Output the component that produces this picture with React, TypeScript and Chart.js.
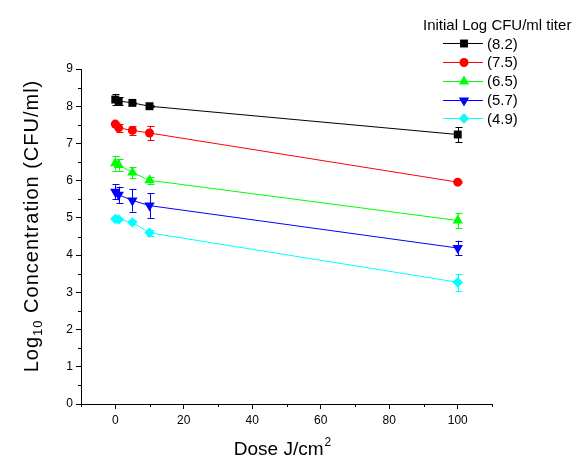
import React, { useEffect, useRef } from 'react';
import { Chart, registerables } from 'chart.js';
import { drawPoint } from 'chart.js/helpers';

Chart.register(...registerables);

const doses = [0, 1, 5, 10, 100];
const seriesLabels = ['(8.2)', '(7.5)', '(6.5)', '(5.7)', '(4.9)'];
const s82 = [8.18, 8.14, 8.09, 8.0, 7.24];
const s75 = [7.52, 7.42, 7.35, 7.28, 5.96];
const s65 = [6.47, 6.42, 6.22, 6.01, 4.93];
const s57 = [5.7, 5.62, 5.47, 5.33, 4.19];
const s49 = [4.97, 4.96, 4.88, 4.6, 3.27];
const e82 = [0.15, 0.1, 0.03, 0.03, 0.2];
const e75 = [0.05, 0.1, 0.12, 0.19, 0.03];
const e65 = [0.2, 0.15, 0.15, 0.1, 0.2];
const e57 = [0.2, 0.22, 0.3, 0.33, 0.2];
const e49 = [0.03, 0.03, 0.05, 0.08, 0.23];
const xTickValues = [0, 20, 40, 60, 80, 100];
const yTickValues = [0, 1, 2, 3, 4, 5, 6, 7, 8, 9];
const xMinorValues = [-10, 10, 30, 50, 70, 90, 110];
const yMinorValues = [0.5, 1.5, 2.5, 3.5, 4.5, 5.5, 6.5, 7.5, 8.5];
const legendTitle = 'Initial Log CFU/ml titer';

const FONT = '"Liberation Sans", Arial, sans-serif';

const seriesValues = [s82, s75, s65, s57, s49];
const seriesErrors = [e82, e75, e65, e57, e49];
const colors = ['#000000', '#ff0000', '#00ff00', '#0000ff', '#00ffff'];
const styles = ['rect', 'circle', 'triangle', 'triangle', 'rectRot'];
const rotations = [0, 0, 0, 180, 0];
const radii = [5.6, 4.5, 6, 6, 5.2];

const errBarPlugin = {
  id: 'errBars',
  beforeDatasetsDraw(chart: any) {
    const ctx = chart.ctx;
    const ys = chart.scales.y;
    chart.data.datasets.forEach((ds: any, i: number) => {
      const meta = chart.getDatasetMeta(i);
      const errs = seriesErrors[i];
      ctx.save();
      ctx.strokeStyle = ds.borderColor;
      ctx.lineWidth = 1;
      meta.data.forEach((pt: any, j: number) => {
        const v = seriesValues[i][j];
        const e = errs[j];
        const x = Math.round(pt.x) + 0.5;
        const y1 = ys.getPixelForValue(v + e);
        const y2 = ys.getPixelForValue(v - e);
        ctx.beginPath();
        ctx.moveTo(x, y1);
        ctx.lineTo(x, y2);
        ctx.moveTo(x - 3, Math.round(y1) + 0.5);
        ctx.lineTo(x + 4, Math.round(y1) + 0.5);
        ctx.moveTo(x - 3, Math.round(y2) + 0.5);
        ctx.lineTo(x + 4, Math.round(y2) + 0.5);
        ctx.stroke();
      });
      ctx.restore();
    });
  },
};

const decorPlugin = {
  id: 'decor',
  afterDraw(chart: any) {
    const ctx = chart.ctx;
    const xs = chart.scales.x;
    const ys = chart.scales.y;
    const area = chart.chartArea;
    ctx.save();
    // minor ticks
    ctx.strokeStyle = '#000';
    ctx.lineWidth = 1;
    ctx.beginPath();
    xMinorValues.forEach((v) => {
      const px = Math.round(xs.getPixelForValue(v)) + 0.5;
      ctx.moveTo(px, area.bottom);
      ctx.lineTo(px, area.bottom + 3);
    });
    yMinorValues.forEach((v) => {
      const py = Math.round(ys.getPixelForValue(v)) + 0.5;
      ctx.moveTo(area.left, py);
      ctx.lineTo(area.left - 3, py);
    });
    ctx.stroke();

    ctx.fillStyle = '#000';
    ctx.textBaseline = 'alphabetic';
    // x title
    ctx.font = `19px ${FONT}`;
    const xMain = 'Dose J/cm';
    const wMain = ctx.measureText(xMain).width;
    ctx.font = `12px ${FONT}`;
    const wSup = ctx.measureText('2').width;
    const xStart = 282 - (wMain + wSup) / 2;
    ctx.font = `19px ${FONT}`;
    ctx.textAlign = 'left';
    ctx.fillText(xMain, xStart, 455);
    ctx.font = `12px ${FONT}`;
    ctx.fillText('2', xStart + wMain + 1, 446);

    // y title
    ctx.save();
    ctx.translate(38, 226);
    ctx.rotate(-Math.PI / 2);
    (ctx as any).letterSpacing = '1px';
    ctx.font = `20px ${FONT}`;
    const a = 'Log';
    const c = ' Concentration (CFU/ml)';
    const wa = ctx.measureText(a).width;
    const wc = ctx.measureText(c).width;
    ctx.font = `13px ${FONT}`;
    const wb = ctx.measureText('10').width;
    const total = wa + wb + wc;
    let px = -total / 2;
    ctx.font = `20px ${FONT}`;
    ctx.fillText(a, px, 0);
    px += wa;
    ctx.font = `13px ${FONT}`;
    ctx.fillText('10', px, 4);
    px += wb;
    ctx.font = `20px ${FONT}`;
    ctx.fillText(c, px, 0);
    (ctx as any).letterSpacing = '0px';
    ctx.restore();

    // legend
    ctx.font = `15px ${FONT}`;
    ctx.textAlign = 'left';
    ctx.fillText(legendTitle, 423, 29.5);
    chart.data.datasets.forEach((ds: any, i: number) => {
      const cy = 43.3 + i * 18.75;
      ctx.strokeStyle = ds.borderColor;
      ctx.lineWidth = 1;
      ctx.beginPath();
      ctx.moveTo(443, Math.round(cy) + 0.5);
      ctx.lineTo(483, Math.round(cy) + 0.5);
      ctx.stroke();
      ctx.fillStyle = ds.backgroundColor;
      drawPoint(ctx, {
        pointStyle: ds.pointStyle,
        radius: ds.pointRadius,
        rotation: ds.pointRotation,
        borderWidth: 0,
      }, 464, Math.round(cy) + 0.5);
      ctx.fillStyle = '#000';
      ctx.fillText(ds.label, 487, cy + 5.4);
    });
    ctx.restore();
  },
};

export default function App() {
  const ref = useRef<HTMLCanvasElement | null>(null);
  useEffect(() => {
    if (!ref.current) return;
    const datasets = seriesLabels.map((label, i) => ({
      label,
      data: doses.map((d, j) => ({ x: d, y: seriesValues[i][j] })),
      showLine: true,
      borderColor: colors[i],
      backgroundColor: colors[i],
      borderWidth: 1,
      pointStyle: styles[i],
      pointRotation: rotations[i],
      pointRadius: radii[i],
      pointBorderWidth: 0,
      pointBackgroundColor: colors[i],
      tension: 0,
    }));
    const chart = new Chart(ref.current, {
      type: 'scatter',
      data: { datasets },
      options: {
        animation: false,
        responsive: false,
        devicePixelRatio: 1,
        layout: { padding: { top: 69, right: 84, left: 0, bottom: 0 } },
        plugins: { legend: { display: false }, tooltip: { enabled: false } },
        scales: {
          x: {
            type: 'linear',
            min: -10,
            max: 110,
            afterBuildTicks: (s: any) => {
              s.ticks = xTickValues.map((v) => ({ value: v }));
            },
            afterFit: (s: any) => {
              s.height = 54;
            },
            border: { display: true, color: '#000', width: 1 },
            grid: { drawOnChartArea: false, drawTicks: true, tickLength: 5, color: '#000' },
            ticks: { color: '#000', font: { family: FONT, size: 12 }, padding: 4, maxRotation: 0 },
          },
          y: {
            type: 'linear',
            min: 0,
            max: 9,
            afterBuildTicks: (s: any) => {
              s.ticks = yTickValues.map((v) => ({ value: v }));
            },
            afterFit: (s: any) => {
              s.width = 81;
            },
            border: { display: true, color: '#000', width: 1 },
            grid: { drawOnChartArea: false, drawTicks: true, tickLength: 5, color: '#000' },
            ticks: { color: '#000', font: { family: FONT, size: 12 }, padding: 3 },
          },
        },
      },
      plugins: [errBarPlugin, decorPlugin],
    } as any);
    return () => chart.destroy();
  }, []);
  return (
    <div style={{ position: 'fixed', left: 0, top: 0, width: 576, height: 458, background: '#fff' }}>
      <canvas ref={ref} width={576} height={458} />
    </div>
  );
}
